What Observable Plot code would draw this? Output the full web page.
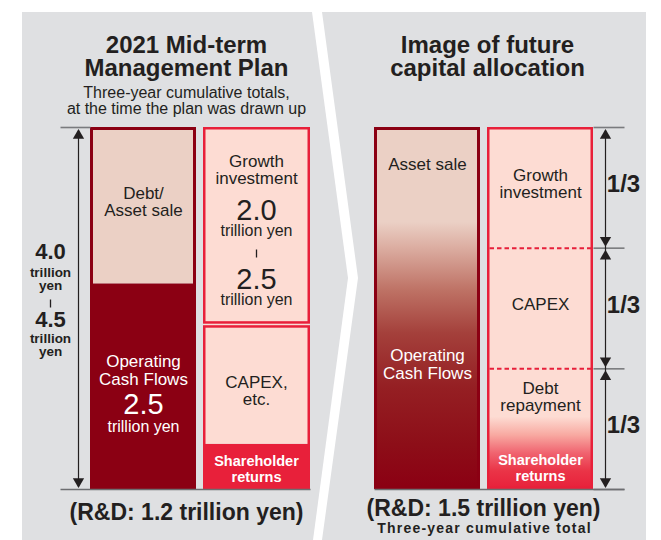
<!DOCTYPE html>
<html><head><meta charset="utf-8">
<script src="https://cdn.jsdelivr.net/npm/d3@7"></script>
<script src="https://cdn.jsdelivr.net/npm/@observablehq/plot@0.6"></script>
<style>body{margin:0;background:#fff}#chart{width:661px;height:540px}</style>
</head><body><div id="chart"></div>
<script>
// ---------------- DATA ----------------
// 2021 Mid-term Management Plan — three-year cumulative totals (trillion yen)
const planSources = ["Operating Cash Flows", "Debt/Asset sale"];
const planSourceValues = [2.5, 1.9];            // total shown as 4.0–4.5 trillion yen
const planUses = ["Shareholder returns", "CAPEX, etc.", "Growth investment"];
const planUseValues = [0.55, 1.45, 2.4];        // growth investment 2.0–2.5 trillion yen
const planTotalRange = ["4.0", "4.5"];
const planGrowthRange = ["2.0", "2.5"];
const planOCF = "2.5";
const planRD = "1.2";
// Image of future capital allocation (share of the total)
const futureSources = ["Asset sale", "Operating Cash Flows"];
const futureUses = ["Debt repayment / Shareholder returns", "CAPEX", "Growth investment"];
const futureUseShares = [1/3, 1/3, 1/3];
const futureShareLabel = "1/3";
const futureRD = "1.5";

// ---------------- LAYOUT / STYLE ----------------
const W = 661, H = 540, BASE = 489, TOP = 127;
const py = p => (BASE - p) / (BASE - TOP);     // pixel row -> normalized y (for decorations/labels)
const col = {planSrc: [90, 196], planUse: [203, 310], futSrc: [374, 480], futUse: [487, 593]};
const C = {panel: "#dfe0e2", dark: "#8b0013", tan: "#ebd0c5", pink: "#fddcd3", red: "#e8203a",
           text: "#231f20", grey: "#7a7b7e", white: "#ffffff"};
const FONT = "'Liberation Sans', Arial, Helvetica, sans-serif";

function stack(values) {
  const total = d3.sum(values); let acc = 0;
  return values.map(v => { const y1 = acc / total; acc += v; return {y1, y2: acc / total}; });
}
const planSrcData = stack(planSourceValues).map((s, i) => ({...s, name: planSources[i]}));
const planUseData = stack(planUseValues).map((s, i) => ({...s, name: planUses[i]}));
const futUseData = stack(futureUseShares).map((s, i) => ({...s, name: futureUses[i]}));

const srcFill = {"Operating Cash Flows": C.dark, "Debt/Asset sale": C.tan};
const useFill = {"Shareholder returns": C.red, "CAPEX, etc.": C.pink, "Growth investment": C.pink};

const panelLeft = [{y: 12, x1: 22, x2: 312}, {y: 278, x1: 22, x2: 348}, {y: 540, x1: 22, x2: 313}];
const panelRight = [{y: 12, x1: 322, x2: 646}, {y: 278, x1: 358, x2: 646}, {y: 540, x1: 322, x2: 646}];

const X = c => [() => c[0], () => c[1]];
const growthY = planUseData[2].y1;

// lines (normalized y)
const ticks = [
  {x1: 60, x2: 90, y1: 1, y2: 1},
  ...[0, 1/3, 2/3, 1].map(v => ({x1: 593, x2: 624, y1: v, y2: v}))
];
const baselines = [{x1: 60, x2: 310, y1: 0, y2: 0}, {x1: 374, x2: 624, y1: 0, y2: 0}];
const verticals = [{x1: 78, x2: 78, y1: py(486), y2: py(130)}, {x1: 605, x2: 605, y1: py(486), y2: py(130)}];
const segs = [[0, 1, 78]];
futUseData.forEach(d => segs.push([d.y1, d.y2, 605]));
const upHeads = segs.map(([a, b, x]) => ({x, y: b}));
const downHeads = segs.map(([a, b, x]) => ({x, y: a}));
const dashes = [1/3, 2/3].map(v => ({x1: col.futUse[0] + 2, x2: col.futUse[1] - 2, y1: v, y2: v}));
const ranges = [{x: 256, a: 257, b: 249}, {x: 50, a: 307, b: 299}];

// labels: [style, text, x, baseline]
const S = {
  title: {fontSize: 24, fontWeight: "bold", fill: C.text},
  sub: {fontSize: 16, fill: C.text},
  label: {fontSize: 17, fill: C.text},
  labelW: {fontSize: 17, fill: C.white},
  big: {fontSize: 29, fill: C.text},
  bigW: {fontSize: 29, fill: C.white},
  unit: {fontSize: 16, fill: C.text},
  unitW: {fontSize: 16, fill: C.white},
  sh: {fontSize: 14.5, fontWeight: "bold", fill: C.white},
  range: {fontSize: 22, fontWeight: "bold", fill: C.text},
  rangeU: {fontSize: 13.5, fontWeight: "bold", fill: C.text},
  rd: {fontSize: 23, fontWeight: "bold", fill: C.text},
  note: {fontSize: 14, fontWeight: "bold", fill: C.text},
  third: {fontSize: 24, fontWeight: "bold", fill: C.text}
};
const labels = [
  ["title", "2021 Mid-term", 186, 52], ["title", "Management Plan", 186, 75],
  ["sub", "Three-year cumulative totals,", 186, 97], ["sub", "at the time the plan was drawn up", 186, 113],
  ["label", "Debt/", 143, 198], ["label", "Asset sale", 143, 215],
  ["labelW", "Operating", 143, 366], ["labelW", "Cash Flows", 143, 384],
  ["bigW", planOCF, 143, 413], ["unitW", "trillion yen", 143, 431],
  ["label", "Growth", 256, 166], ["label", "investment", 256, 183],
  ["big", planGrowthRange[0], 256, 219], ["unit", "trillion yen", 256, 235],
  ["big", planGrowthRange[1], 256, 288], ["unit", "trillion yen", 256, 304],
  ["label", "CAPEX,", 256, 387], ["label", "etc.", 256, 404],
  ["sh", "Shareholder", 256, 465], ["sh", "returns", 256, 481],
  ["range", planTotalRange[0], 50, 258], ["rangeU", "trillion", 50, 276], ["rangeU", "yen", 50, 289.5],
  ["range", planTotalRange[1], 50, 326], ["rangeU", "trillion", 50, 342], ["rangeU", "yen", 50, 355.5],
  ["rd", `(R&D: ${planRD} trillion yen)`, 186, 519],
  ["title", "Image of future", 487, 52], ["title", "capital allocation", 487, 75],
  ["label", futureSources[0], 427, 169],
  ["labelW", "Operating", 427, 360], ["labelW", "Cash Flows", 427, 378],
  ["label", "Growth", 540, 180], ["label", "investment", 540, 197],
  ["label", "CAPEX", 540, 309],
  ["label", "Debt", 540, 393], ["label", "repayment", 540, 410],
  ["sh", "Shareholder", 540, 464], ["sh", "returns", 540, 480],
  ["third", futureShareLabel, 623, 191], ["third", futureShareLabel, 623, 312], ["third", futureShareLabel, 623, 432],
  ["rd", `(R&D: ${futureRD} trillion yen)`, 483, 515],
  ["note", "Three-year cumulative total", 484, 532]
].map(([s, t, x, b]) => ({s, t, x, b}));

const textMarks = Object.keys(S).map(k =>
  Plot.text(labels.filter(d => d.s === k), {
    x: "x", y: d => py(d.b), text: "t", textAnchor: "middle", lineAnchor: "bottom",
    fontFamily: FONT, ...S[k]
  }));

const [px1, px2] = X(col.planSrc), [ux1, ux2] = X(col.planUse), [fx1, fx2] = X(col.futSrc), [gx1, gx2] = X(col.futUse);

const chart = Plot.plot({
  width: W, height: H, margin: 0,
  x: {domain: [0, W], range: [0, W], axis: null},
  y: {domain: [0, 1], range: [BASE, TOP], axis: null},
  style: {fontFamily: FONT, background: "#fff"},
  marks: [
    Plot.areaX(panelLeft, {y: d => py(d.y), x1: "x1", x2: "x2", fill: C.panel}),
    Plot.areaX(panelRight, {y: d => py(d.y), x1: "x1", x2: "x2", fill: C.panel}),
    // 2021 plan: sources
    Plot.rect(planSrcData, {x1: px1, x2: px2, y1: "y1", y2: "y2", fill: d => srcFill[d.name]}),
    Plot.rect([0], {x1: px1, x2: px2, y1: () => 0, y2: () => 1, fill: "none", stroke: C.dark, strokeWidth: 3, inset: 1.5}),
    // 2021 plan: uses
    Plot.rect(planUseData, {x1: ux1, x2: ux2, y1: "y1", y2: "y2", fill: d => useFill[d.name], insetLeft: 1, insetRight: 1}),
    Plot.rect([0], {x1: ux1, x2: ux2, y1: () => growthY, y2: () => 1, fill: "none", stroke: C.red, strokeWidth: 2.5,
      insetLeft: 1.25, insetRight: 1.25, insetTop: 1.25, insetBottom: 2}),
    Plot.rect([0], {x1: ux1, x2: ux2, y1: () => 0, y2: () => growthY, fill: "none", stroke: C.red, strokeWidth: 2.5,
      insetLeft: 1.25, insetRight: 1.25, insetTop: 2, insetBottom: 1.25}),
    // future: sources (gradient)
    Plot.rect([0], {x1: fx1, x2: fx2, y1: () => 0, y2: () => 1, fill: "url(#gSrc)", stroke: C.dark, strokeWidth: 3, inset: 1.5}),
    // future: uses
    Plot.rect(futUseData, {x1: gx1, x2: gx2, y1: "y1", y2: "y2", fill: (d, i) => i === 0 ? "url(#gUse)" : C.pink}),
    Plot.rect([0], {x1: gx1, x2: gx2, y1: () => 0, y2: () => 1, fill: "none", stroke: C.red, strokeWidth: 2.5, inset: 1.25}),
    Plot.link(dashes, {x1: "x1", x2: "x2", y1: "y1", y2: "y2", stroke: C.red, strokeWidth: 2, strokeDasharray: "4.5,3"}),
    // guide lines
    Plot.link(ticks, {x1: "x1", x2: "x2", y1: "y1", y2: "y2", stroke: C.grey, strokeWidth: 1.6}),
    Plot.link(baselines, {x1: "x1", x2: "x2", y1: "y1", y2: "y2", stroke: "#6d6e71", strokeWidth: 1.6}),
    Plot.link(verticals, {x1: "x1", x2: "x2", y1: "y1", y2: "y2", stroke: C.text, strokeWidth: 1.2}),
    Plot.dot(upHeads, {x: "x", y: "y", symbol: "triangle", r: 4.2, fill: C.text, dy: 8}),
    Plot.dot(downHeads, {x: "x", y: "y", symbol: "triangle", r: 4.2, fill: C.text, rotate: 180, dy: -8}),
    Plot.link(ranges, {x1: "x", x2: "x", y1: d => py(d.a), y2: d => py(d.b), stroke: C.text, strokeWidth: 1.3}),
    ...textMarks
  ]
});
document.getElementById("chart").appendChild(chart);

// wide tracking on the small bold note
d3.select(chart).selectAll("text").filter(function() { return this.textContent === "Three-year cumulative total"; })
  .style("letter-spacing", "1.2px");

// gradients
const defs = d3.select(chart).insert("defs", ":first-child");
function grad(id, stops) {
  const g = defs.append("linearGradient").attr("id", id).attr("x1", 0).attr("y1", 0).attr("x2", 0).attr("y2", 1);
  stops.forEach(([o, c]) => g.append("stop").attr("offset", o).attr("stop-color", c));
}
grad("gSrc", [[0, C.tan], [0.26, C.tan], [0.33, "#dcaea2"], [0.45, "#be7265"], [0.57, "#a4403b"],
              [0.72, "#951f23"], [0.88, "#8d0e18"], [1, C.dark]]);
grad("gUse", [[0, C.pink], [0.4, C.pink], [0.55, "#f8aaa2"], [0.7, "#f06470"], [0.85, "#ea3447"], [1, C.red]]);
</script>
</body></html>
